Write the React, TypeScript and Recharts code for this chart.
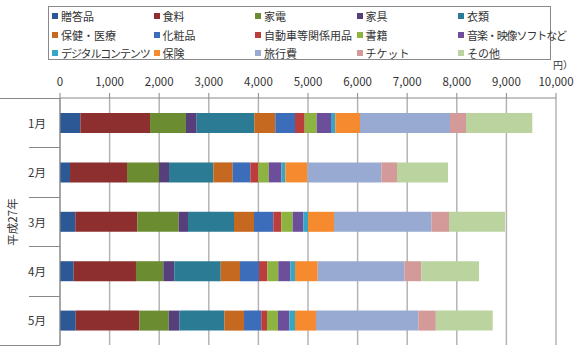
import { Bar, BarChart, CartesianGrid, XAxis, YAxis } from 'recharts';

const months = ['1月', '2月', '3月', '4月', '5月'];

const seriesNames = [
  '贈答品',
  '食料',
  '家電',
  '家具',
  '衣類',
  '保健・医療',
  '化粧品',
  '自動車等関係用品',
  '書籍',
  '音楽・映像ソフトなど',
  'デジタルコンテンツ',
  '保険',
  '旅行費',
  'チケット',
  'その他',
];

const colors = [
  '#2C5895',
  '#8E2F2F',
  '#6C8C32',
  '#563F7B',
  '#2A7B93',
  '#C56820',
  '#3C6DBA',
  '#BC3E3C',
  '#8DB440',
  '#6D4E9B',
  '#36A6C4',
  '#F68A2E',
  '#98AAD2',
  '#D49A9A',
  '#BBD39F',
];

// values per month (yen), same order as seriesNames
const jan = [410, 1405, 725, 215, 1162, 424, 397, 195, 242, 289, 86, 498, 1815, 322, 1337];
const feb = [202, 1149, 645, 202, 893, 391, 355, 161, 210, 254, 80, 448, 1488, 316, 1029];
const mar = [308, 1250, 835, 188, 927, 403, 389, 162, 230, 213, 95, 524, 1962, 357, 1129];
const apr = [276, 1256, 551, 221, 936, 389, 383, 168, 221, 242, 95, 458, 1746, 342, 1164];
const may = [317, 1282, 593, 213, 908, 397, 348, 115, 222, 228, 115, 423, 2063, 353, 1147];

const xTicks = [0, 1000, 2000, 3000, 4000, 5000, 6000, 7000, 8000, 9000, 10000];

const rows = [jan, feb, mar, apr, may];
const data = months.map((m, i) => {
  const row: Record<string, string | number> = { month: m };
  seriesNames.forEach((name, j) => {
    row[name] = rows[i][j];
  });
  return row;
});

const FONT = '"Noto Sans CJK JP", "Noto Sans", sans-serif';
const PLOT_TOP = 98;
const PLOT_BOTTOM = 345;
const PLOT_LEFT = 60;
const BAND = (PLOT_BOTTOM - PLOT_TOP) / months.length;

function MonthTick({ y, payload }: any) {
  return (
    <text x={37} y={y} textAnchor="middle" dominantBaseline="central" fontSize={11.5} fill="#333" fontFamily={FONT}>
      {payload.value}
    </text>
  );
}

export default function App() {
  return (
    <div style={{ position: 'absolute', left: 0, top: 0, width: 580, height: 359, background: '#fff', fontFamily: FONT }}>
      <div
        style={{
          position: 'absolute',
          left: 48,
          top: 6,
          width: 503,
          height: 54,
          border: '1px solid #8a8a8a',
          boxSizing: 'border-box',
        }}
      >
        {seriesNames.map((name, i) => (
          <div
            key={name}
            style={{
              position: 'absolute',
              left: 3 + (i % 5) * 101.5,
              top: 1 + Math.floor(i / 5) * 18.5,
              fontSize: 11,
              lineHeight: '16px',
              color: '#333',
              whiteSpace: 'nowrap',
              display: 'flex',
              alignItems: 'center',
              letterSpacing: name.length > 8 ? -1.1 : 0,
            }}
          >
            <span style={{ display: 'inline-block', width: 6, height: 6, background: colors[i], marginRight: 3 }} />
            {name}
          </div>
        ))}
      </div>
      <div style={{ position: 'absolute', left: 553, top: 57, fontSize: 10, color: '#333' }}>円）</div>
      <BarChart
        width={580}
        height={359}
        data={data}
        layout="vertical"
        margin={{ top: 68, right: 24, bottom: 14, left: 0 }}
        barSize={20}
      >
        <CartesianGrid horizontal={false} stroke="#b4b4b4" strokeWidth={1.5} />
        <XAxis
          type="number"
          orientation="top"
          domain={[0, 10000]}
          ticks={xTicks}
          interval={0}
          height={30}
          tickSize={5}
          tickMargin={7}
          axisLine={{ stroke: '#888' }}
          tickLine={{ stroke: '#888' }}
          tick={{ fontSize: 11.5, fill: '#333', fontFamily: FONT }}
          tickFormatter={(v: number) => v.toLocaleString('en-US')}
        />
        <YAxis
          type="category"
          dataKey="month"
          width={60}
          axisLine={{ stroke: '#888' }}
          tickLine={false}
          tick={<MonthTick />}
        />
        {seriesNames.map((name, i) => (
          <Bar key={name} dataKey={name} stackId="a" fill={colors[i]} isAnimationActive={false} />
        ))}
      </BarChart>
      <svg width={580} height={359} style={{ position: 'absolute', left: 0, top: 0, pointerEvents: 'none' }}>
        <line x1={0} x2={PLOT_LEFT} y1={PLOT_TOP + 0.5} y2={PLOT_TOP + 0.5} stroke="#888" />
        <line x1={0} x2={PLOT_LEFT} y1={PLOT_BOTTOM + 0.5} y2={PLOT_BOTTOM + 0.5} stroke="#888" />
        {months.slice(1).map((m, i) => (
          <line
            key={m}
            x1={29}
            x2={PLOT_LEFT}
            y1={Math.round(PLOT_TOP + BAND * (i + 1)) + 0.5}
            y2={Math.round(PLOT_TOP + BAND * (i + 1)) + 0.5}
            stroke="#888"
          />
        ))}
        <text
          x={12}
          y={222}
          transform="rotate(-90 12 222)"
          textAnchor="middle"
          dominantBaseline="central"
          fontSize={11.5}
          fill="#333"
          fontFamily={FONT}
        >
          平成27年
        </text>
      </svg>
    </div>
  );
}
